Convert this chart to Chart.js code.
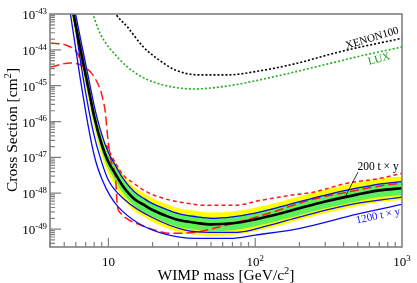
<!DOCTYPE html>
<html>
<head>
<meta charset="utf-8">
<script src="https://cdn.jsdelivr.net/npm/chart.js@4.4.0/dist/chart.umd.min.js"></script>
<style>
html, body { margin: 0; padding: 0; background: #fff; }
</style>
</head>
<body>
<canvas id="limits" width="417" height="283"></canvas>
<script>
/*_____________________DATA____________________*/

// masses [GeV/c^2] shared by the 200 t x y median and its 1 and 2 sigma bands
const mass = [5.5, 6, 6.5, 7, 7.5, 8, 9, 10, 11, 12.5, 15, 17.5, 20, 25, 30, 40, 50, 70, 100, 150, 200, 300, 500, 700, 1000];
const median200 = [2.8e-43, 4.6e-44, 8.9e-45, 2.0e-45, 5.0e-46, 1.38e-46, 2.3e-47, 7.4e-48, 3.8e-48, 1.62e-48, 6.9e-49, 4.7e-49, 3.4e-49, 2.3e-49, 1.78e-49, 1.48e-49, 1.35e-49, 1.45e-49, 1.86e-49, 2.75e-49, 3.8e-49, 5.9e-49, 9.3e-49, 1.2e-48, 1.38e-48];
const sigma1Up = [4.4e-43, 7.1e-44, 1.38e-44, 3.1e-45, 7.8e-46, 2.1e-46, 3.5e-47, 1.15e-47, 5.9e-48, 2.5e-48, 1.07e-48, 7.2e-49, 5.2e-49, 3.5e-49, 2.75e-49, 2.3e-49, 2.1e-49, 2.2e-49, 2.9e-49, 4.3e-49, 5.9e-49, 9.1e-49, 1.45e-48, 1.86e-48, 2.1e-48];
const sigma1Dn = [1.8e-43, 3.0e-44, 5.8e-45, 1.3e-45, 3.2e-46, 8.9e-47, 1.5e-47, 4.8e-48, 2.45e-48, 1.05e-48, 4.5e-49, 3.0e-49, 2.2e-49, 1.48e-49, 1.15e-49, 9.5e-50, 8.7e-50, 9.3e-50, 1.2e-49, 1.78e-49, 2.45e-49, 3.8e-49, 6.0e-49, 7.8e-49, 8.9e-49];
const sigma2Up = [6.0e-43, 9.8e-44, 1.9e-44, 4.3e-45, 1.07e-45, 2.95e-46, 4.9e-47, 1.58e-47, 8.1e-48, 3.5e-48, 1.48e-48, 1.0e-48, 7.2e-49, 4.9e-49, 3.8e-49, 3.2e-49, 2.9e-49, 3.1e-49, 4.0e-49, 5.9e-49, 8.1e-49, 1.26e-48, 2.0e-48, 2.6e-48, 2.95e-48];
const sigma2Dn = [1.3e-43, 2.1e-44, 4.2e-45, 9.3e-46, 2.35e-46, 6.5e-47, 1.07e-47, 3.5e-48, 1.78e-48, 7.6e-49, 3.2e-49, 2.2e-49, 1.58e-49, 1.07e-49, 8.3e-50, 6.9e-50, 6.3e-50, 6.8e-50, 8.7e-50, 1.29e-49, 1.78e-49, 2.75e-49, 4.4e-49, 5.6e-49, 6.5e-49];
const blueUp = [5.6e-43, 9.1e-44, 1.78e-44, 4.0e-45, 1.0e-45, 2.75e-46, 4.4e-47, 1.35e-47, 6.6e-48, 2.7e-48, 1.1e-48, 7.1e-49, 5.1e-49, 3.5e-49, 2.7e-49, 2.2e-49, 2.0e-49, 2.2e-49, 2.8e-49, 4.2e-49, 5.8e-49, 8.9e-49, 1.4e-48, 1.8e-48, 2.1e-48];

const blueMidMass = [5.5, 5.78, 6.76, 7.9, 8.82, 10, 13.1, 19.9, 33.4, 49.4, 75.5, 126, 202, 444, 1000];
const blueMid = [3.4e-43, 1.0e-43, 1.45e-45, 5.0e-47, 9.5e-48, 2.3e-48, 6.3e-49, 2.1e-49, 9.3e-50, 8.1e-50, 8.1e-50, 1.29e-49, 2.2e-49, 4.8e-49, 7.8e-49];

// 1200 t x y
const blueLowMass = [5.2, 5.51, 6.45, 7.42, 8.16, 9.1, 10.3, 11.7, 16.0, 23.3, 39.1, 67.6, 100, 202, 494, 1000];
const blueLow = [4e-43, 1.0e-43, 1.45e-45, 5.0e-47, 8.3e-48, 2.3e-48, 8.3e-49, 4.1e-49, 1.45e-49, 7.6e-50, 5.5e-50, 5.5e-50, 6.8e-50, 1.05e-49, 2.6e-49, 4.9e-49];

const redShortMass = [9.69, 10.3, 11.2, 12.6, 14.6, 18.4, 23.7, 30.9, 49.4, 73.1, 108, 173, 248, 423, 708, 1000];
const redShort = [2.2e-47, 1.3e-47, 6.9e-48, 3.2e-48, 2.0e-48, 1.07e-48, 7.2e-49, 5.6e-49, 4.6e-49, 4.6e-49, 6.3e-49, 8.7e-49, 1.07e-48, 1.9e-48, 2.6e-48, 3.6e-48];

const redLongMass = [4.03, 5.5, 6.46, 7.55, 8.55, 9.1, 9.55, 9.85, 10.3, 11.2, 11.5, 12.1, 13.5, 16.5, 20.9, 26.4, 38, 55, 75.5, 126, 248, 423, 708, 1000];
const redLong = [3.3e-45, 4.3e-45, 3.8e-45, 2.4e-45, 1.04e-45, 4.8e-46, 1.7e-46, 4.2e-47, 1.0e-47, 2.3e-48, 4.6e-49, 2.8e-49, 1.9e-49, 1.3e-49, 9.3e-50, 7.6e-50, 8.0e-50, 1.1e-49, 1.55e-49, 2.8e-49, 6.8e-49, 1.07e-48, 1.6e-48, 1.9e-48];
const redLong2Mass = [4.03, 5.1, 6.15, 6.6];
const redLong2 = [1.55e-44, 1.36e-44, 8.1e-45, 4e-45];

const xenonMass = [10.3, 11.2, 13.5, 17.3, 22.6, 29.4, 42.3, 64.6, 108, 182, 397, 1000];
const xenon100 = [1.8e-43, 1.0e-43, 4.3e-44, 1.2e-44, 4.9e-45, 2.6e-45, 2.0e-45, 2.0e-45, 2.6e-45, 4.0e-45, 9.3e-45, 2.1e-44];
const luxMass = [7.3, 7.8, 8.8, 11.5, 15.7, 22.6, 37.9, 64.6, 141, 309, 518, 1000];
const lux = [1.7e-43, 1.0e-43, 2.8e-44, 6.3e-45, 2.1e-45, 1.1e-45, 8.1e-46, 9.8e-46, 1.86e-45, 4.0e-45, 6.7e-45, 1.2e-44];

// tick labels: 10^exp
const yTickExp = [-43, -44, -45, -46, -47, -48, -49];
const xTickExp = [1, 2, 3];

/*_____________________HELPERS____________________*/

const SERIF = '"Liberation Serif", "Times New Roman", serif';

function pts(xs, ys) {
  return xs.map((v, i) => ({x: v, y: ys[i]}));
}

function line(data, color, width, dash, order) {
  return {
    data: data,
    borderColor: color,
    borderWidth: width,
    borderDash: dash,
    pointRadius: 0,
    fill: false,
    cubicInterpolationMode: 'monotone',
    order: order
  };
}

// draw text parts, part[1] = true means superscript
function rich(ctx, parts, x, y, size, align) {
  let total = 0;
  parts.forEach(p => {
    ctx.font = (p[1] ? size * 0.68 : size) + 'px ' + SERIF;
    total += ctx.measureText(p[0]).width;
  });
  let cx = x;
  if (align === 'right') cx = x - total;
  if (align === 'center') cx = x - total / 2;
  ctx.textAlign = 'left';
  ctx.textBaseline = 'alphabetic';
  parts.forEach(p => {
    ctx.font = (p[1] ? size * 0.68 : size) + 'px ' + SERIF;
    ctx.fillText(p[0], cx, p[1] ? y - size * 0.4 : y);
    cx += ctx.measureText(p[0]).width;
  });
}

/*_____________________AXES_AND_LABELS____________________*/

const rootAxes = {
  id: 'rootAxes',
  afterDraw(chart) {
    const ctx = chart.ctx;
    const a = chart.chartArea;
    const xs = chart.scales.x, ys = chart.scales.y;
    ctx.save();

    // frame
    ctx.strokeStyle = '#808080';
    ctx.lineWidth = 1.6;
    ctx.strokeRect(a.left, a.top, a.right - a.left, a.bottom - a.top);

    // ticks on the inside
    ctx.lineWidth = 1.2;
    ctx.beginPath();
    for (let e = -50; e <= -44; e++) {
      for (let k = 1; k <= 9; k++) {
        const v = k * Math.pow(10, e);
        if (v < ys.min * 0.999 || v > ys.max * 1.001) continue;
        const py = ys.getPixelForValue(v);
        const len = k === 1 ? 11 : 5;
        ctx.moveTo(a.left, py);
        ctx.lineTo(a.left + len, py);
      }
    }
    for (let e = 0; e <= 2; e++) {
      for (let k = 1; k <= 9; k++) {
        const v = k * Math.pow(10, e);
        if (v < xs.min * 0.999 || v > xs.max * 1.001) continue;
        const px = xs.getPixelForValue(v);
        const len = k === 1 ? 9 : 5;
        ctx.moveTo(px, a.bottom);
        ctx.lineTo(px, a.bottom - len);
      }
    }
    ctx.stroke();

    // tick labels
    ctx.fillStyle = '#000';
    yTickExp.forEach(e => {
      const py = ys.getPixelForValue(Math.pow(10, e));
      rich(ctx, [['10', false], [String(e), true]], 47, py + 5, 13, 'right');
    });
    xTickExp.forEach(e => {
      const px = xs.getPixelForValue(Math.pow(10, e));
      const parts = e === 1 ? [['10', false]] : [['10', false], [String(e), true]];
      rich(ctx, parts, px, 266, 13, 'center');
    });

    // axis titles
    rich(ctx, [['WIMP mass [GeV/c', false], ['2', true], [']', false]], (a.left + a.right) / 2, 280, 15.5, 'center');
    ctx.save();
    ctx.translate(17, 130);
    ctx.rotate(-Math.PI / 2);
    rich(ctx, [['Cross Section [cm', false], ['2', true], [']', false]], 0, 0, 15.5, 'center');
    ctx.restore();

    // curve labels
    function tag(text, m, s, deg, color, size) {
      ctx.save();
      ctx.translate(xs.getPixelForValue(m), ys.getPixelForValue(s));
      ctx.rotate(deg * Math.PI / 180);
      ctx.fillStyle = color;
      ctx.font = size + 'px ' + SERIF;
      ctx.textAlign = 'center';
      ctx.textBaseline = 'middle';
      ctx.fillText(text, 0, 0);
      ctx.restore();
    }
    tag('XENON100', 625, 2.1e-44, -17, '#000', 11);
    tag('LUX', 698, 5.5e-45, -15, '#1f9f1f', 11);
    tag('200 t \u00d7 y', 687, 5.4e-48, 0, '#000', 11.5);
    tag('1200 t \u00d7 y', 687, 2.3e-49, -12, '#1010ee', 11);

    ctx.strokeStyle = '#000';
    ctx.lineWidth = 0.8;
    ctx.beginPath();
    ctx.moveTo(xs.getPixelForValue(502), ys.getPixelForValue(3.9e-48));
    ctx.lineTo(xs.getPixelForValue(409), ys.getPixelForValue(7.8e-49));
    ctx.stroke();

    ctx.restore();
  }
};

/*_____________________CHART____________________*/

const band = (data, color, fill, order) => ({
  data: data,
  borderWidth: 0,
  borderColor: 'rgba(0,0,0,0)',
  backgroundColor: color,
  pointRadius: 0,
  fill: fill,
  cubicInterpolationMode: 'monotone',
  order: order
});

new Chart(document.getElementById('limits'), {
  type: 'line',
  data: {
    datasets: [
      line(pts(mass, median200), '#000000', 2.6, [], 0),
      line(pts(mass, blueUp), '#0a0af0', 1.3, [], 1),
      line(pts(blueMidMass, blueMid), '#0a0af0', 1.3, [], 1),
      line(pts(blueLowMass, blueLow), '#0a0af0', 1.3, [], 1),
      line(pts(redShortMass, redShort), '#ff1a1a', 1.5, [4, 3], 2),
      line(pts(redLongMass, redLong), '#ff1a1a', 1.5, [9, 4], 2),
      line(pts(redLong2Mass, redLong2), '#ff1a1a', 1.5, [9, 4], 2),
      line(pts(xenonMass, xenon100), '#000000', 1.6, [2, 2], 3),
      line(pts(luxMass, lux), '#1fae1f', 1.6, [2, 2], 3),
      band(pts(mass, sigma1Up), '#5cf05c', '+1', 9),
      band(pts(mass, sigma1Dn), '#5cf05c', false, 9),
      band(pts(mass, sigma2Up), '#ffff00', '+1', 10),
      band(pts(mass, sigma2Dn), '#ffff00', false, 10)
    ]
  },
  options: {
    responsive: false,
    devicePixelRatio: 1,
    animation: false,
    layout: {padding: {left: 50, right: 15, top: 14, bottom: 36}},
    plugins: {
      legend: {display: false},
      tooltip: {enabled: false}
    },
    scales: {
      x: {type: 'logarithmic', min: 4, max: 1000, display: false},
      y: {type: 'logarithmic', min: 3.16e-50, max: 1e-43, display: false}
    }
  },
  plugins: [rootAxes]
});
</script>
</body>
</html>
